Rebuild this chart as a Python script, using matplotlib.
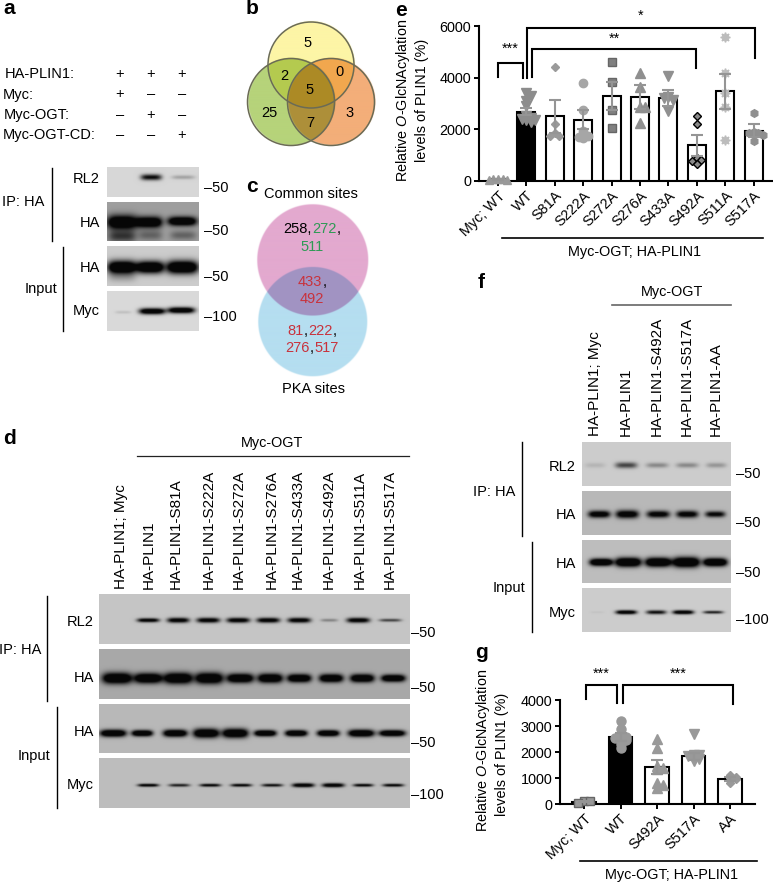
import numpy as np
import matplotlib
matplotlib.use('Agg')
import matplotlib.pyplot as plt
from matplotlib.patches import Circle
from matplotlib.transforms import ScaledTranslation

plt.rcParams['font.family'] = ['Liberation Sans', 'DejaVu Sans']
plt.rcParams['mathtext.fontset'] = 'custom'
plt.rcParams['mathtext.it'] = 'Liberation Sans:italic'
plt.rcParams['mathtext.rm'] = 'Liberation Sans'

W, H = 773, 883
GRAY = '#959595'
FS = 10.4

# panel a table
a_rows = ['HA-PLIN1:', 'Myc:', 'Myc-OGT:', 'Myc-OGT-CD:']
a_signs = [['+', '+', '+'], ['+', '–', '–'], ['–', '+', '–'], ['–', '–', '+']]

# blots: band x centre, band width, band height, darkness (pixels of the picture)
a_rl2 = dict(x=[151, 183], w=[21, 23], h=[6, 4], d=[1.0, 0.25])
a_ha1 = dict(x=[122, 149, 182, 122, 150, 183], w=[30, 26, 29, 28, 24, 26], h=[14, 11, 9, 12, 10, 9], d=[1.6, 1.6, 1.6, 0.7, 0.4, 0.4])
a_ha1_y = [222, 222, 221, 236, 235, 235]
a_ha2 = dict(x=[122, 150, 182, 122], w=[29, 27, 32, 28], h=[13, 12, 13, 10], d=[1.6, 1.6, 1.6, 0.2])
a_ha2_y = [267, 267, 267, 277]
a_myc = dict(x=[123, 152, 181], w=[16, 26, 27], h=[3, 6, 6], d=[0.12, 1.4, 1.4])

d_rl2 = dict(x=[148, 178, 208, 238, 268, 299, 329, 358, 390], w=[22, 22, 23, 23, 23, 23, 17, 23, 22],
             h=[4, 5, 5, 5, 5, 5, 3, 5, 3], d=[1.2, 1.2, 1.2, 1.2, 1.2, 1.2, 0.35, 1.2, 0.7])
d_ha1 = dict(x=[117, 148, 178, 209, 240, 270, 299, 331, 362, 393], w=[30, 28, 29, 28, 27, 25, 24, 24, 24, 24],
             h=[11, 10, 11, 11, 9, 9, 8, 8, 8, 7], d=[1.6] * 10)
d_ha2 = dict(x=[113, 142, 175, 206, 235, 265, 296, 328, 361, 392], w=[26, 21, 24, 26, 26, 22, 22, 22, 26, 26],
             h=[7, 6, 7, 9, 9, 6, 6, 6, 7, 6], d=[1.6] * 10)
d_myc = dict(x=[148, 179, 210, 241, 272, 303, 333, 363, 393], w=[21, 21, 21, 21, 21, 22, 22, 20, 21],
             h=[3, 3, 3, 3, 3, 4, 4, 3, 3], d=[1.2, 0.9, 1.1, 1.1, 1.0, 1.3, 1.3, 1.1, 1.1])

f_rl2 = dict(x=[595, 626, 657, 687, 716], w=[20, 22, 22, 22, 20], h=[5, 6, 5, 5, 5], d=[0.12, 0.7, 0.35, 0.35, 0.28])
f_ha1 = dict(x=[599, 627, 658, 687, 715], w=[22, 23, 23, 22, 20], h=[7, 8, 7, 7, 6], d=[1.3, 1.3, 1.2, 1.2, 1.1])
f_ha2 = dict(x=[601, 628, 658, 686, 715], w=[23, 26, 26, 27, 24], h=[7, 9, 9, 10, 8], d=[1.7] * 5)
f_myc = dict(x=[597, 626, 656, 683, 713], w=[14, 21, 20, 21, 20], h=[2, 4, 4, 4, 3], d=[0.05, 1.3, 1.0, 1.3, 0.9])

# panel b / c
b_counts = ['5', '2', '0', '5', '25', '3', '7']
c_rows = [[('258,', 'k'), ('272', 'g'), (',', 'k')],
          [('511', 'g')],
          [('433', 'r'), (',', 'k')],
          [('492', 'r')],
          [('81', 'r'), (',', 'k'), ('222', 'r'), (',', 'k')],
          [('276', 'r'), (',', 'k'), ('517', 'r')]]

# panel e
e_names = ['Myc; WT', 'WT', 'S81A', 'S222A', 'S272A', 'S276A', 'S433A', 'S492A', 'S511A', 'S517A']
e_means = [60, 2680, 2500, 2380, 3300, 3250, 3200, 1380, 3480, 1950]
e_sem = [15, 130, 650, 370, 550, 450, 310, 420, 680, 250]
e_points = [[90, 70, 60, 50, 30],
            [3400, 3300, 3100, 2900, 2500, 2450, 2400, 2350, 2300, 2350],
            [4400, 2200, 1850, 1750, 1750],
            [3800, 2750, 1950, 1800, 1750, 1700, 1650],
            [4600, 3850, 2750, 2050],
            [4200, 3650, 2850, 2850, 2250],
            [4050, 3250, 3150, 3200, 2700],
            [2500, 2200, 880, 800, 780, 650],
            [5580, 4200, 3400, 2850, 1600],
            [2650, 1900, 1850, 1850, 1800, 1550]]
e_markers = ['^', 'v', 'D', 'o', 's', '^', 'v', 'D', (8, 1, 0), 'h']
e_sizes = [6, 6.5, 4, 6, 5.8, 6.5, 6.5, 4.5, 7, 5.5]
e_colors = ['#999999', '#8c8c8c', '#9a9a9a', '#a6a6a6', '#808080', '#8f8f8f', '#909090', '#8a8a8a', '#bcbcbc', '#8f8f8f']

# panel g
g_names = ['Myc; WT', 'WT', 'S492A', 'S517A', 'AA']
g_means = [90, 2570, 1420, 1830, 960]
g_sem = [25, 150, 270, 130, 60]
g_points = [[130, 120, 35],
            [3200, 2900, 2620, 2580, 2550, 2500, 2450, 2300, 2150],
            [2500, 2150, 1450, 1400, 1350, 800, 750, 600],
            [2700, 1900, 1880, 1850, 1800, 1750, 1650],
            [1100, 1050, 1000, 950, 800]]
g_markers = ['s', 'o', '^', 'v', 'D']
g_sizes = [6, 6.5, 6.5, 6.5, 4.5]


fig = plt.figure(figsize=(W / 100, H / 100), dpi=100)
ov = fig.add_axes([0, 0, 1, 1])
ov.axis('off')


def txt(x, y, s, ha='center', size=10.5, **kw):
    return ov.text(x, y, s, ha=ha, va='center', fontsize=size, **kw)


def blot(x0, y0, x1, y1, bg, bands, y_c):
    ''' Grey panel with soft dark bands '''
    xx, yy = np.meshgrid(np.arange(x0, x1, 0.5), np.arange(y0, y1, 0.5))
    ys = y_c if isinstance(y_c, list) else [y_c] * len(bands['x'])
    dark = np.zeros_like(xx)
    for cx, w, h, d, cy in zip(bands['x'], bands['w'], bands['h'], bands['d'], ys):
        dark += d * np.exp(-((xx - cx) / (w / 2)) ** 4 - ((yy - cy) / (h / 2)) ** 2)
    img = bg - (bg - 0.03) * np.clip(dark, 0, 1)
    ov.imshow(img, extent=(x0, x1, y1, y0), cmap='gray', vmin=0, vmax=1, aspect='auto', interpolation='bilinear')


def venn(circles, colors, edge):
    ''' Overlapping discs with multiplied colours '''
    x0 = min(c[0] - c[2] for c in circles) - 2
    x1 = max(c[0] + c[2] for c in circles) + 2
    y0 = min(c[1] - c[2] for c in circles) - 2
    y1 = max(c[1] + c[2] for c in circles) + 2
    xx, yy = np.meshgrid(np.arange(x0, x1, 0.5), np.arange(y0, y1, 0.5))
    img = np.ones(xx.shape + (3,))
    for (cx, cy, r), col in zip(circles, colors):
        mask = np.clip(r - np.hypot(xx - cx, yy - cy) + 0.5, 0, 1)[..., None]
        img = img * (1 - mask + mask * np.array(matplotlib.colors.to_rgb(col)))
    ov.imshow(img, extent=(x0, x1, y1, y0), aspect='auto', interpolation='bilinear')
    if edge:
        for cx, cy, r in circles:
            ov.add_patch(Circle((cx, cy), r, fill=False, ec=edge, lw=1.1))


def swarm(vals, thresh, step):
    ''' Push close values sideways so the marks do not sit on top of each other '''
    placed = []
    out = []
    for v in vals:
        k = 0
        while k < 6:
            off = ((k + 1) // 2) * step * (1 if k % 2 else -1)
            if not any(abs(v - pv) < thresh and abs(off - po) < step * 0.9 for pv, po in placed):
                break
            k += 1
        placed.append((v, off))
        out.append(off)
    return np.array(out)


def bars(ax, names, means, sem, points, markers, sizes, colors, thresh, step):
    x = np.arange(len(names))
    fc = ['#000000' if n == 'WT' else 'white' for n in names]
    ax.bar(x, means, width=0.64, color=fc, edgecolor='k', linewidth=1.5, zorder=2)
    for i in x:
        pts = np.array(points[i], dtype=float)
        off = swarm(pts, thresh, step)
        col = colors[i]
        ec = 'k' if names[i] == 'S492A' and ax is ax_e else ('#666666' if markers[i] == 's' else col)
        ax.plot(x[i] + off, pts, ls='none', marker=markers[i], ms=sizes[i], mfc=col, mec=ec, mew=1.0, zorder=4, clip_on=False)
        ax.errorbar(x[i], means[i], yerr=sem[i], color=GRAY, capsize=4, lw=1.5, capthick=1.5, zorder=5)
    ax.set_xticks(x)
    ax.set_xticklabels(names, rotation=45, ha='right', rotation_mode='anchor', fontsize=FS)
    shift = ScaledTranslation(3 / 100, 0, fig.dpi_scale_trans)
    for lab in ax.get_xticklabels():
        lab.set_transform(lab.get_transform() + shift)
    for s in ['top', 'right']:
        ax.spines[s].set_visible(False)
    for s in ['left', 'bottom']:
        ax.spines[s].set_linewidth(1.5)
    ax.tick_params(width=1.4, length=3.5, labelsize=FS, pad=2)
    ax.patch.set_alpha(0)


def bracket(x0, x1, top, yl, yr, label, ly):
    ov.plot([x0, x0, x1, x1], [yl, top, top, yr], color='k', lw=1.5, solid_joinstyle='miter')
    txt((x0 + x1) / 2, ly, label, size=10.4)


# panel letters
for s, x, y in [('a', 9, 9), ('b', 252, 9), ('c', 252, 187), ('d', 9, 439), ('e', 401, 10), ('f', 481, 283), ('g', 482, 653)]:
    txt(x, y, s, size=15, fontweight='bold')

# panel a
for s, x, y in zip(a_rows, [5, 3, 4, 3], [74, 95, 115, 135]):
    txt(x, y, s, ha='left')
for row, y in zip(a_signs, [74, 94, 115, 135]):
    for s, x in zip(row, [120, 151, 182]):
        txt(x, y, s)
blot(107, 167, 199, 197, 0.84, a_rl2, 177)
blot(107, 202, 199, 241, 0.62, a_ha1, a_ha1_y)
blot(107, 246, 199, 286, 0.80, a_ha2, a_ha2_y)
blot(107, 291, 199, 331, 0.85, a_myc, [312, 311, 310])
for s, y in zip(['RL2', 'HA', 'HA', 'Myc'], [179, 223, 268, 311]):
    txt(100, y, s, ha='right')
for s, y in zip(['–50', '–50', '–50', '–100'], [188, 231, 277, 317]):
    txt(204, y, s, ha='left')
txt(44, 202, 'IP: HA', ha='right')
txt(57, 289, 'Input', ha='right')
ov.plot([52, 52], [168, 241], color='k', lw=1.0)
ov.plot([63, 63], [247, 331], color='k', lw=1.0)

# panel b
venn([(291, 102, 43.5), (331, 102, 43.5), (311, 65, 43)], ['#b6d37a', '#f3ae79', '#fdf5a6'], '#6b6b55')
for s, x, y in zip(b_counts, [308, 284, 339, 310, 269, 350, 310], [43, 76, 72, 90, 113, 113, 123]):
    txt(x, y, s)

# panel c
venn([(312, 260, 55.5), (312, 321.5, 54.5)], ['#e3a9cf', '#b5def0'], None)
txt(311, 194, 'Common sites')
txt(313, 389, 'PKA sites')
c_cols = {'k': 'k', 'g': '#2e9a55', 'r': '#c8323c'}
rend = fig.canvas.get_renderer()
ov.set_xlim(0, W)
ov.set_ylim(H, 0)
for row, y in zip(c_rows, [229, 247, 282, 299, 331, 348]):
    parts = [txt(0, y, s, ha='left', color=c_cols[c]) for s, c in row]
    widths = [p.get_window_extent(rend).width for p in parts]
    x = 312 - sum(widths) / 2
    for p, w in zip(parts, widths):
        p.set_x(x)
        x += w

# panel d
txt(272, 443, 'Myc-OGT', size=FS)
ov.plot([137, 409], [456, 456], color='#222222', lw=0.9)
d_labels = ['HA-PLIN1; Myc', 'HA-PLIN1', 'HA-PLIN1-S81A', 'HA-PLIN1-S222A', 'HA-PLIN1-S272A', 'HA-PLIN1-S276A',
            'HA-PLIN1-S433A', 'HA-PLIN1-S492A', 'HA-PLIN1-S511A', 'HA-PLIN1-S517A']
for s, x in zip(d_labels, [121, 149, 176, 209, 239, 272, 298, 329, 360, 390]):
    ov.text(x, 589, s, rotation=90, ha='center', va='bottom', fontsize=11)
blot(99, 594, 410, 644, 0.77, d_rl2, 620)
blot(99, 649, 410, 699, 0.66, d_ha1, 678)
blot(99, 704, 410, 753, 0.72, d_ha2, 733)
blot(99, 758, 410, 808, 0.74, d_myc, 785)
for s, y in zip(['RL2', 'HA', 'HA', 'Myc'], [622, 678, 732, 785]):
    txt(94, y, s, ha='right')
for s, y in zip(['–50', '–50', '–50', '–100'], [633, 688, 743, 795]):
    txt(411, y, s, ha='left')
txt(41, 650, 'IP: HA', ha='right')
txt(50, 756, 'Input', ha='right')
ov.plot([47, 47], [596, 701], color='k', lw=1.0)
ov.plot([57, 57], [707, 808], color='k', lw=1.0)

# panel f
txt(672, 292, 'Myc-OGT', size=FS)
ov.plot([612, 731], [305, 305], color='#666666', lw=1.2)
f_labels = ['HA-PLIN1; Myc', 'HA-PLIN1', 'HA-PLIN1-S492A', 'HA-PLIN1-S517A', 'HA-PLIN1-AA']
for s, x in zip(f_labels, [595, 626, 657, 687, 716]):
    ov.text(x, 436, s, rotation=90, ha='center', va='bottom', fontsize=11)
blot(582, 442, 731, 486, 0.80, f_rl2, 465)
blot(582, 491, 731, 535, 0.72, f_ha1, 514)
blot(582, 540, 731, 583, 0.74, f_ha2, 562)
blot(582, 588, 731, 632, 0.80, f_myc, 612)
for s, y in zip(['RL2', 'HA', 'HA', 'Myc'], [467, 515, 564, 613]):
    txt(576, y, s, ha='right')
for s, y in zip(['–50', '–50', '–50', '–100'], [474, 523, 573, 620]):
    txt(736, y, s, ha='left')
txt(515, 492, 'IP: HA', ha='right')
txt(525, 588, 'Input', ha='right')
ov.plot([522, 522], [442, 536], color='k', lw=1.0)
ov.plot([532, 532], [542, 632], color='k', lw=1.0)

# panel e
ax_e = fig.add_axes([479 / W, 1 - 181 / H, (772 - 479) / W, 155 / H])
bars(ax_e, e_names, e_means, e_sem, e_points, e_markers, e_sizes, e_colors, 150, 0.16)
ax_e.set_xlim((479 - 498) / 28.4, (772 - 498) / 28.4)
ax_e.set_ylim(0, 6000)
ax_e.set_yticks([0, 2000, 4000, 6000])
bracket(498, 523, 63, 77, 78, '***', 49)
bracket(532, 696, 49, 77, 68, '**', 39)
bracket(527, 755, 28, 78, 58, '*', 16)
ov.plot([502, 763], [238, 238], color='k', lw=1.2)
txt(635, 252, 'Myc-OGT; HA-PLIN1', size=FS)
txt(403, 100, r'Relative $\mathit{O}$-GlcNAcylation', rotation=90, size=FS)
txt(422, 100, 'levels of PLIN1 (%)', rotation=90, size=FS)

# panel g
ax_g = fig.add_axes([560 / W, 1 - 804 / H, (755 - 560) / W, 104 / H])
bars(ax_g, g_names, g_means, g_sem, g_points, g_markers, g_sizes, ['#999999'] * 5, 100, 0.16)
ax_g.set_xlim((560 - 584) / 36.5, (755 - 584) / 36.5)
ax_g.set_ylim(0, 4000)
ax_g.set_yticks([0, 1000, 2000, 3000, 4000])
bracket(586, 617, 685, 699, 703, '***', 674)
bracket(623, 733, 685, 703, 704, '***', 674)
ov.plot([580, 757], [861, 861], color='k', lw=1.2)
txt(672, 875, 'Myc-OGT; HA-PLIN1', size=FS)
txt(483, 750, r'Relative $\mathit{O}$-GlcNAcylation', rotation=90, size=FS)
txt(502, 754, 'levels of PLIN1 (%)', rotation=90, size=FS)

ov.set_xlim(0, W)
ov.set_ylim(H, 0)
fig.savefig('out.png', dpi=100)
